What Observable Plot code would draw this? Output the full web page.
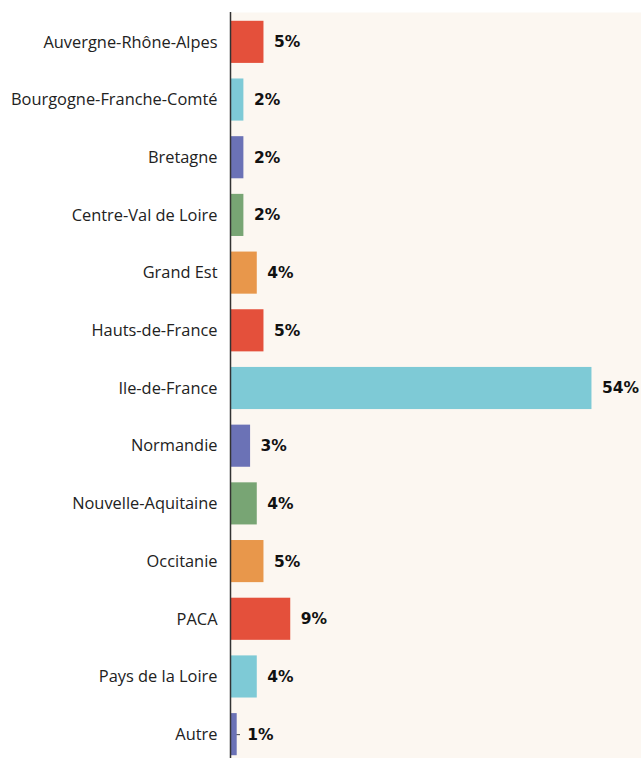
<!DOCTYPE html>
<html><head><meta charset="utf-8">
<script src="https://cdn.jsdelivr.net/npm/d3@7"></script>
<script src="https://cdn.jsdelivr.net/npm/@observablehq/plot@0.6"></script>
<style>html,body{margin:0;padding:0;background:#fff;overflow:hidden}svg{display:block}</style>
</head><body><div id="chart"></div>
<script>
const regions = ["Auvergne-Rhône-Alpes","Bourgogne-Franche-Comté","Bretagne","Centre-Val de Loire","Grand Est","Hauts-de-France","Ile-de-France","Normandie","Nouvelle-Aquitaine","Occitanie","PACA","Pays de la Loire","Autre"];
const values = [5,2,2,2,4,5,54,3,4,5,9,4,1];
const palette = ["#e4503b","#7ecad6","#6b72b6","#78a574","#e8974b"];
const data = regions.map((r,i)=>({region:r, value:values[i], color:palette[i%palette.length]}));

const chart = Plot.plot({
  width: 641, height: 758,
  marginLeft: 230, marginRight: 0, marginTop: 12, marginBottom: 0,
  style: {fontFamily: "'Open Sans', sans-serif", fontSize: "16.4px", color: "#222"},
  x: {domain: [0, 61.4], axis: null},
  y: {domain: regions, range: [13, 763], paddingInner: 0.27, paddingOuter: 0.135, round: false, label: null},
  marks: [
    Plot.frame({fill: "#fcf7f1", stroke: null}),
    Plot.axisY({tickSize: 10, dx: 10, text: null, stroke: "#444"}),
    Plot.axisY({tickSize: 0, tickPadding: 13, fontSize: 16.4, fill: "#222"}),
    Plot.barX(data, {y: "region", x: "value", fill: "color"}),
    Plot.text(data, {y: "region", x: "value", text: d => d.value + "%", textAnchor: "start", dx: 10,
      fontWeight: "bold", fontSize: 15.5, fontFamily: "'DejaVu Sans', sans-serif", fill: "#111"}),
    Plot.ruleX([0], {stroke: "#333", strokeWidth: 1.5})
  ]
});
document.getElementById("chart").appendChild(chart);
</script></body></html>
